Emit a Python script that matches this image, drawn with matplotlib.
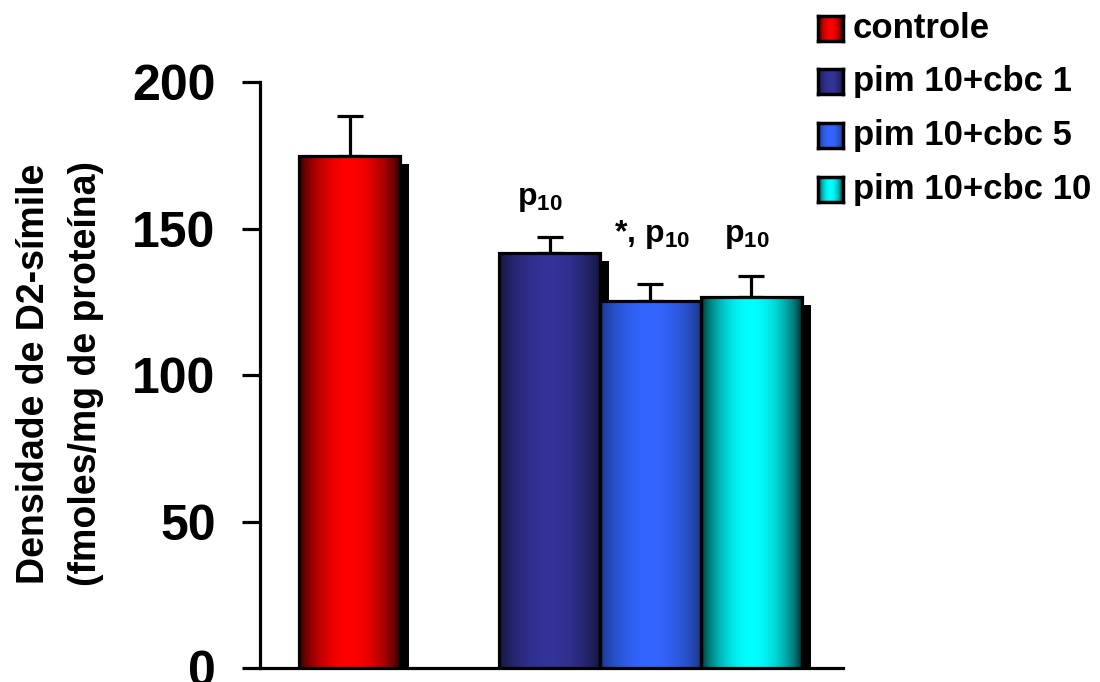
import numpy as np
import matplotlib.pyplot as plt
from matplotlib.colors import to_rgb

plt.rcParams['font.family'] = ['Liberation Sans', 'DejaVu Sans']
plt.rcParams['font.weight'] = 'bold'
plt.rcParams['mathtext.fontset'] = 'custom'
plt.rcParams['mathtext.rm'] = 'Liberation Sans:bold'
plt.rcParams['mathtext.it'] = 'Liberation Sans:bold'
plt.rcParams['mathtext.bf'] = 'Liberation Sans:bold'

# receptor density per group (mean + SEM)
groups = ['controle', 'pim 10+cbc 1', 'pim 10+cbc 5', 'pim 10+cbc 10']
means = [174.7, 141.6, 125.4, 126.6]
sem = [13.7, 5.6, 5.7, 7.2]
marks = ['', 'p$_{10}$', '*, p$_{10}$', 'p$_{10}$']
mark_y = [0, 155.0, 142.5, 142.5]
mark_dx = [0, -0.1, 0.02, -0.04]
yticks = [0, 50, 100, 150, 200]

# bar shading: bright centre colour fading to a dark edge colour
centre_cols = ['#ff0000', '#333399', '#3366ff', '#00ffff']
edge_cols = ['#2a0000', '#141438', '#1a3380', '#002828']

xpos = [0.89, 2.87, 3.87, 4.87]
width = 1.0


def gradient(c_mid, c_edge, n=200):
    t = np.abs(np.linspace(-1, 1, n))
    w = np.cos(t * np.pi / 2) ** 0.7
    mid = np.array(to_rgb(c_mid))
    edge = np.array(to_rgb(c_edge))
    img = edge[None, :] + (mid - edge)[None, :] * w[:, None]
    return img[None, :, :]


fig = plt.figure(figsize=(11, 6.82), dpi=100)
ax = fig.add_axes([0.2364, 0.0205, 0.53, 0.8592])

# drop shadows first so neighbouring bars sit on top of them
ax.bar([x + 0.09 for x in xpos], [m - 2.7 for m in means], width,
       color='black', zorder=1)

ax.errorbar(xpos, means, yerr=[np.zeros(len(means)), sem], fmt='none',
            ecolor='black', elinewidth=2.3, capsize=9.5, capthick=2.3, zorder=2)

bars = ax.bar(xpos, means, width, facecolor='none', edgecolor='black',
              linewidth=2.3, zorder=4)
for b, c1, c2 in zip(bars, centre_cols, edge_cols):
    x0 = b.get_x()
    im = ax.imshow(gradient(c1, c2), extent=[x0, x0 + width, 0, b.get_height()],
                   aspect='auto', zorder=3, interpolation='bilinear')
    im.set_clip_path(b)

for x, dx, txt, y in zip(xpos, mark_dx, marks, mark_y):
    if txt:
        ax.text(x + dx, y, txt, ha='center', va='bottom', fontsize=23,
                fontweight='bold')

ax.set_xlim(0, 5.78)
ax.set_ylim(0, 200)
ax.set_xticks([])
ax.set_yticks(yticks)
ax.tick_params(axis='y', labelsize=36, length=13, width=2.3, pad=19)
for s in ['top', 'right']:
    ax.spines[s].set_visible(False)
for s in ['left', 'bottom']:
    ax.spines[s].set_linewidth(2.3)

ax.set_ylabel('Densidade de D2-símile\n(fmoles/mg de proteína)',
              fontsize=27, fontweight='bold', linespacing=1.55)
ax.yaxis.set_label_coords(-0.268, 0.502)

# legend drawn by hand so the swatches keep the shading
for i, (name, c1, c2) in enumerate(zip(groups, centre_cols, edge_cols)):
    yc = 28 + 53.7 * i
    sw = fig.add_axes([818 / 1100, 1 - (yc + 12.5) / 682, 25 / 1100, 25 / 682])
    sw.imshow(gradient(c1, c2, 50), aspect='auto', interpolation='bilinear')
    sw.set_xticks([])
    sw.set_yticks([])
    for sp in sw.spines.values():
        sp.set_linewidth(2.5)
    fig.text(853 / 1100, 1 - yc / 682, name, fontsize=25, fontweight='bold',
             va='center', ha='left')

fig.savefig('out.png', dpi=100)
